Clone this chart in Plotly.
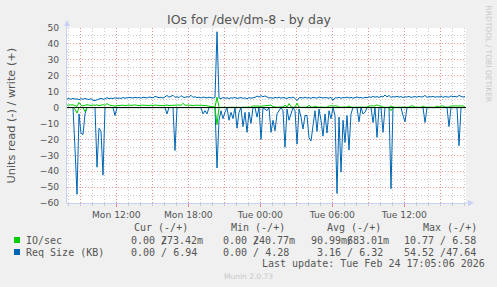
import plotly.graph_objects as go
import pandas as pd

# ---------------- data (10-minute samples) ----------------
start_time = "2026-02-23 07:53:30"
n_samples = 200

io_write = [
    1.5, 1.6, 1.3, 1.7, 1.2, 0.8, 3.2, 1.4, 1.0, 1.6,
    1.8, 1.5, 1.3, 1.6, 1.4, 1.7, 1.2, 1.5, 1.8, 1.4,
    2.5, 1.6, 1.3, 1.1, 0.9, 1.2, 1.4, 1.3, 1.5, 1.2,
    1.4, 1.6, 1.3, 1.5, 1.7, 1.4, 1.2, 1.5, 1.6, 1.3,
    1.4, 1.2, 1.5, 1.3, 1.6, 1.4, 1.5, 1.3, 1.2, 1.4,
    1.6, 1.3, 1.4, 1.5, 1.2, 1.4, 1.6, 1.4, 2.6, 1.5,
    1.3, 1.5, 1.4, 1.2, 1.5, 1.3, 1.4, 1.6, 1.2, 1.3,
    1.1, 0.6, 0.3, 0.2, 0.3, 6.58, 0.2, 0.1, 0.3, 0.2,
    0.1, 0.3, 0.2, 0.2, 0.1, 0.3, 0.2, 0.1, 0.2, 0.3,
    0.2, 0.1, 0.3, 1.0, 0.9, 1.1, 1.0, 0.8, 1.0, 1.1,
    0.9, 1.0, 1.5, 0.6, 0.3, 0.2, 0.3, 0.2, 0.4, 1.5,
    0.3, 2.5, 0.4, 0.2, 0.3, 2.7, 0.3, 0.2, 0.3, 0.2,
    0.3, 1.5, 0.3, 0.2, 1.0, 0.3, 0.2, 0.3, 0.2, 0.3,
    0.2, 1.0, 1.0, 0.9, 1.0, 1.0, 0.3, 0.2, 0.3, 0.2,
    0.3, 1.0, 0.3, 0.2, 0.3, 0.2, 0.3, 0.2, 0.3, 0.2,
    0.3, 1.0, 1.0, 0.9, 1.0, 1.7, 1.0, 1.0, 0.3, 0.2,
    0.3, 0.2, 1.0, 0.3, 0.2, 0.3, 0.2, 0.3, 0.2, 0.3,
    0.2, 0.3, 1.0, 1.0, 0.3, 0.2, 0.3, 0.2, 1.0, 0.3,
    0.2, 0.3, 0.2, 0.3, 0.2, 1.0, 0.3, 1.0, 1.0, 0.3,
    0.2, 0.3, 1.0, 1.0, 1.0, 1.1, 0.9, 1.0, 1.0, 0.27,
]

io_read = [
    0, 0, 0, 0, -1.0, -3.5, 0, 0, 0, -2.5,
    0, 0, 0, 0, 0, 0, 0, 0, 0, 0,
    0, 0, 0, 0, 0, 0, 0, 0, 0, 0,
    0, 0, 0, 0, 0, 0, 0, 0, 0, 0,
    0, 0, 0, 0, 0, 0, 0, 0, 0, 0,
    0, 0, 0, 0, 0, 0, 0, 0, 0, 0,
    0, 0, 0, 0, 0, 0, 0, 0, 0, 0,
    0, 0, 0, 0, 0, -10.77, 0, 0, 0, 0,
    0, 0, 0, 0, 0, 0, 0, 0, 0, 0,
    0, 0, 0, 0, 0, 0, 0, 0, 0, 0,
    0, 0, 0, 0, 0, 0, 0, 0, 0, 0,
    0, 0, 0, 0, 0, 0, 0, 0, 0, 0,
    0, 0, 0, 0, 0, 0, 0, 0, 0, 0,
    0, 0, 0, 0, 0, 0, 0, 0, 0, 0,
    0, 0, 0, 0, 0, 0, 0, 0, 0, 0,
    0, 0, 0, 0, 0, 0, 0, 0, 0, 0,
    0, 0, -2.0, 0, 0, 0, 0, 0, 0, 0,
    0, 0, 0, 0, 0, 0, 0, 0, 0, 0,
    0, 0, 0, 0, 0, 0, 0, 0, 0, 0,
    0, 0, 0, 0, 0, 0, 0, 0, 0, 0,
]

req_write = [
    5.4, 5.6, 5.2, 5.8, 5.3, 5.5, 4.9, 5.6, 5.2, 5.7,
    5.3, 5.0, 5.6, 4.6, 4.4, 4.8, 5.3, 5.8, 5.2, 5.4,
    6.2, 5.6, 5.9, 5.7, 6.1, 5.8, 6.0, 5.7, 6.3, 5.9,
    6.1, 6.4, 6.2, 6.0, 6.4, 6.1, 6.3, 5.9, 6.5, 6.2,
    6.0, 6.6, 6.3, 6.1, 7.0, 6.4, 6.2, 6.5, 6.0, 6.7,
    7.6, 6.5, 6.9, 7.7, 6.4, 6.8, 6.2, 7.5, 6.6, 6.3,
    6.9, 6.5, 7.7, 6.4, 6.8, 6.2, 6.5, 6.0, 6.6, 6.3,
    6.1, 6.5, 6.2, 5.9, 6.4, 47.64, 6.0, 5.5, 6.3, 5.8,
    6.1, 5.6, 6.2, 5.9, 6.4, 5.7, 6.0, 6.3, 5.8, 6.1,
    5.5, 6.2, 5.9, 6.0, 6.4, 7.2, 6.6, 7.5, 6.8, 7.3,
    6.5, 6.0, 6.2, 5.8, 6.4, 6.0, 6.5, 5.9, 6.3, 6.1,
    5.7, 6.4, 6.0, 6.6, 5.8, 4.3, 6.1, 6.3, 5.9, 6.5,
    6.0, 6.2, 5.8, 6.4, 6.1, 5.9, 6.6, 6.2, 6.0, 6.3,
    6.1, 5.9, 6.4, 4.6, 6.2, 6.0, 6.5, 5.8, 6.3, 6.1,
    6.6, 6.0, 6.4, 5.9, 6.2, 6.7, 6.1, 6.3, 5.9, 6.5,
    6.2, 6.8, 6.4, 7.0, 6.5, 6.9, 6.3, 7.2, 6.6, 7.9,
    6.7, 7.6, 6.4, 6.9, 6.6, 7.1, 6.5, 6.9, 6.3, 6.8,
    6.6, 7.0, 6.4, 6.7, 6.9, 6.5, 7.1, 6.6, 6.8, 7.6,
    6.4, 6.9, 6.7, 7.0, 6.5, 6.8, 6.6, 7.2, 6.4, 6.9,
    6.7, 6.5, 7.3, 6.8, 7.0, 6.6, 7.6, 7.0, 6.6, 6.94,
]

req_read = [
    0, 0, 0, 0, -26, -54.5, -4, -16, -17, -4,
    0, 0, 0, 0, 0, -37.5, -13, -15, -42.5, 0,
    0, 0, 0, 0, -5, 0, 0, 0, 0, 0,
    0, 0, 0, 0, 0, 0, 0, 0, 0, 0,
    0, 0, 0, 0, 0, 0, 0, 0, 0, 0,
    -4, 0, 0, 0, -27, 0, 0, 0, 0, 0,
    0, 0, 0, 0, 0, 0, 0, 0, -4, -2,
    -4, 0, 0, 0, 0, -38, -8, -2, -7, -3,
    0, -8, -3, -7, 0, -13, -3, 0, -12, -3,
    -15.6, -3, -10, 0, 0, -6, 0, -20, 0, -1,
    -2, 0, -15.6, -8, -14.6, -4, -2, 0, -2, -25,
    -1, -8, -4, 0, -2, -23, -1, -6, -13.5, -5,
    -5, -19, -21, -10, -2, -15, -1, -8, -18, -4,
    -16, -2, -7, 0, -5, -54, -6, -40.6, -8, -22,
    -5, -26.7, -4, 0, 0, 0, -9, 0, -4, -3,
    0, 0, 0, -9.4, 0, -18.75, 0, 0, -15.6, 0,
    0, 0, -51, 0, 0, 0, 0, 0, -5, -9,
    0, 0, 0, 0, 0, 0, 0, 0, 0, -9.4,
    0, 0, 0, 0, 0, 0, 0, 0, 0, 0,
    0, -12, 0, 0, 0, 0, -24, 0, 0, 0,
]

x_tick_labels = ["Mon 12:00", "Mon 18:00", "Tue 00:00", "Tue 06:00", "Tue 12:00"]
y_range = [-60, 50]

legend_rows = [
    ("IO/sec", "#00CC00",
     [("0.00 /", "273.42m"), ("0.00 /", "240.77m"), ("90.99m/", "683.01m"), ("10.77 / 6.58", None)]),
    ("Req Size (KB)", "#0066B3",
     [("0.00 / 6.94", None), ("0.00 / 4.28", None), ("3.16 / 6.32", None), ("54.52 /47.64", None)]),
]
col_headers = ["Cur (-/+)", "Min (-/+)", "Avg (-/+)", "Max (-/+)"]
last_update = "Last update: Tue Feb 24 17:05:06 2026"

# ---------------- figure ----------------
W, H = 497, 287
L, R, T, B = 67, 31, 28, 84
PW, PH = W - L - R, H - T - B

def px(x):
    return (x - L) / PW

def py(y):
    return (H - B - y) / PH

t0 = pd.Timestamp(start_time)
times = pd.date_range(t0, periods=n_samples, freq="10min")
t_end = t0 + pd.Timedelta(hours=33.25)

GREEN = "#00CC00"
BLUE = "#0066B3"

fig = go.Figure()
fig.add_trace(go.Scatter(x=times, y=req_read, mode="lines", line=dict(color=BLUE, width=1)))
fig.add_trace(go.Scatter(x=times, y=req_write, mode="lines", line=dict(color=BLUE, width=1)))
fig.add_trace(go.Scatter(x=times, y=io_read, mode="lines", line=dict(color=GREEN, width=1)))
fig.add_trace(go.Scatter(x=times, y=io_write, mode="lines", line=dict(color=GREEN, width=1)))

# ticks
major = pd.date_range("2026-02-23 09:00", "2026-02-24 15:00", freq="3h")
major_text = []
for m in major:
    if m.hour % 6 == 0:
        major_text.append(("Mon " if m.day == 23 else "Tue ") + m.strftime("%H:%M"))
    else:
        major_text.append("")
minor = pd.date_range("2026-02-23 08:00", "2026-02-24 17:00", freq="1h")

MGRID = "rgba(235,120,120,0.75)"
GRID = "rgba(190,190,190,0.8)"
AXIS = "#C9D0F5"
TXT = "#555555"

fig.update_xaxes(
    type="date", range=[t0, t_end],
    tickmode="array", tickvals=list(major), ticktext=major_text,
    showgrid=True, gridcolor=MGRID, griddash="1px,2px", gridwidth=1,
    ticks="outside", ticklen=3, tickcolor="rgba(235,120,120,0.9)",
    showline=True, linecolor=AXIS, linewidth=1, zeroline=False,
    tickfont=dict(family="DejaVu Sans", size=9.2, color=TXT),
    minor=dict(tickmode="array", tickvals=list(minor), showgrid=True, gridcolor=GRID,
               griddash="1px,2px", ticks="outside", ticklen=2, tickcolor="#C8C8C8"),
)
fig.update_yaxes(
    range=y_range, tickmode="linear", tick0=0, dtick=10,
    showgrid=True, gridcolor=MGRID, griddash="1px,2px", gridwidth=1,
    minor=dict(tick0=0, dtick=5, showgrid=True, gridcolor=GRID, griddash="1px,2px"),
    zeroline=False, showline=True, linecolor=AXIS, linewidth=1, ticks="",
    ticklabelstandoff=5,
    tickfont=dict(family="DejaVu Sans", size=9.2, color=TXT),
)

shapes = []
# zero line on top
shapes.append(dict(type="line", xref="paper", yref="y", x0=0, x1=1, y0=0, y1=0,
                   line=dict(color="#000000", width=1), layer="above"))
# axis extensions + arrows
shapes.append(dict(type="line", xref="paper", yref="paper", x0=1, x1=px(470), y0=0, y1=0,
                   line=dict(color=AXIS, width=1)))
shapes.append(dict(type="path", xref="paper", yref="paper",
                   path=f"M {px(468)},{py(200)} L {px(474)},{py(203)} L {px(468)},{py(206)} Z",
                   fillcolor=AXIS, line=dict(width=0)))
shapes.append(dict(type="line", xref="paper", yref="paper", x0=0, x1=0, y0=1, y1=py(24),
                   line=dict(color=AXIS, width=1)))
shapes.append(dict(type="path", xref="paper", yref="paper",
                   path=f"M {px(64)},{py(26)} L {px(67)},{py(20)} L {px(70)},{py(26)} Z",
                   fillcolor=AXIS, line=dict(width=0)))

annotations = []
def txt(x, y, s, size=10, family="DejaVu Sans Mono", color=TXT, xanchor="left", angle=0):
    annotations.append(dict(x=px(x), y=py(y), xref="paper", yref="paper", text=s.replace(" ", "\u00a0"),
                            showarrow=False, xanchor=xanchor, yanchor="middle", textangle=angle,
                            borderpad=0, borderwidth=0,
                            font=dict(family=family, size=size, color=color)))

# title and axis title
txt(249, 19.5, "IOs for /dev/dm-8 - by day", size=12.5, family="DejaVu Sans", xanchor="center")
txt(11, 115.5, "Units read (-) / write (+)", size=11.3, family="DejaVu Sans", xanchor="center", angle=-90)
txt(488, 53.5, "RRDTOOL / TOBI OETIKER", size=7.5, family="DejaVu Sans", color="#C8C8C8",
    xanchor="center", angle=90)

# legend
CW = 6.02
col_x = [131, 223.3, 311, 404.3]
hdr_x = [134.3, 231, 327.3, 422.7]
for hx, h in zip(hdr_x, col_headers):
    txt(hx, 227.3, h)
row_y = [240, 252]
col_x_row2 = [131, 223.3, 317.3, 404.3]
for (name, color, vals), ry, cx in zip(legend_rows, row_y, [col_x, col_x_row2]):
    shapes.append(dict(type="rect", xref="paper", yref="paper", x0=px(14), x1=px(20),
                       y0=py(ry - 3), y1=py(ry + 3), fillcolor=color, line=dict(width=0)))
    txt(26, ry, name)
    for x0, (a, b) in zip(cx, vals):
        txt(x0, ry, a)
        if b is not None:
            txt(x0 + (len(a) - 1) * CW, ry, b)
txt(261.7, 263.3, last_update)
txt(248, 276, "Munin 2.0.73", size=7.5, family="DejaVu Sans", color="#C8C8C8", xanchor="center")

fig.update_layout(
    width=W, height=H, margin=dict(l=L, r=R, t=T, b=B, pad=0),
    paper_bgcolor="#F0F0F0", plot_bgcolor="#FFFFFF", showlegend=False,
    shapes=shapes, annotations=annotations,
)

fig.write_html("out.html")
